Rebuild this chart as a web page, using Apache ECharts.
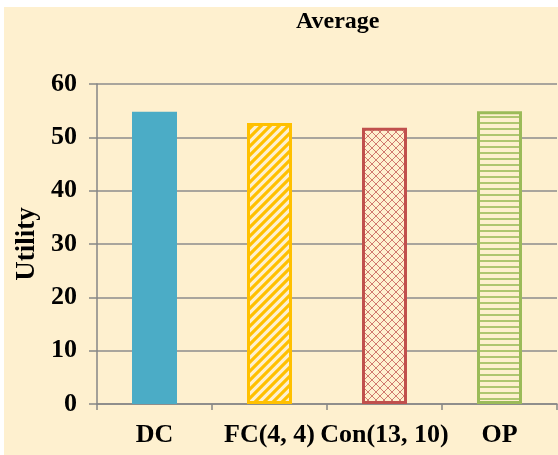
<!DOCTYPE html>
<html>
<head>
<meta charset="utf-8">
<script src="https://cdn.jsdelivr.net/npm/echarts@6/dist/echarts.min.js"></script>
<style>
  html, body { margin: 0; padding: 0; background: #ffffff; }
  #bg { position: absolute; left: 4px; top: 7px; width: 554px; height: 448px; background: #FEF0CF; }
  #chart { position: absolute; left: 0; top: 0; width: 558px; height: 455px; }
</style>
</head>
<body>
<div id="bg"></div>
<div id="chart"></div>
<script>
const chartTitle = 'Average';
const categories = ['DC', 'FC(4, 4)', 'Con(13, 10)', 'OP'];
const values = [54.8, 52.7, 51.8, 54.9];
const yAxisName = 'Utility';
const yMin = 0, yMax = 60, yInterval = 10;

const cream = '#FEF0CF';
function makePattern(kind, color) {
  const c = document.createElement('canvas');
  if (kind === 'horiz') { c.width = 8; c.height = 6; }
  else if (kind === 'diag') { c.width = 9; c.height = 9; }
  else { c.width = 8; c.height = 8; }
  const ctx = c.getContext('2d');
  ctx.fillStyle = cream;
  ctx.fillRect(0, 0, c.width, c.height);
  ctx.strokeStyle = color;
  if (kind === 'diag') {
    const s = c.width;
    ctx.lineWidth = 3.2;
    ctx.beginPath();
    [-s, 0, s].forEach(function (x0) {
      ctx.moveTo(x0 - 2, s + 2);
      ctx.lineTo(x0 + s + 2, -2);
    });
    ctx.stroke();
  } else if (kind === 'cross') {
    ctx.lineWidth = 1;
    ctx.globalAlpha = 0.75;
    ctx.beginPath();
    ctx.moveTo(0, 0); ctx.lineTo(8, 8);
    ctx.moveTo(8, 0); ctx.lineTo(0, 8);
    ctx.stroke();
  } else if (kind === 'horiz') {
    ctx.lineWidth = 1.6;
    ctx.beginPath();
    ctx.moveTo(0, 3); ctx.lineTo(8, 3);
    ctx.stroke();
  }
  return { image: c, repeat: 'repeat' };
}

const styles = [
  { color: '#4BACC6', borderWidth: 0 },
  { color: makePattern('diag', '#FFC000'), borderColor: '#FFC000', borderWidth: 3 },
  { color: makePattern('cross', '#C0504D'), borderColor: '#C0504D', borderWidth: 3 },
  { color: makePattern('horiz', '#9BBB59'), borderColor: '#9BBB59', borderWidth: 3 }
];

const font = '"Liberation Serif", "Times New Roman", serif';
const chart = echarts.init(document.getElementById('chart'));
chart.setOption({
  animation: false,
  backgroundColor: 'transparent',
  title: {
    text: chartTitle,
    left: 291,
    top: 5,
    textStyle: { fontFamily: font, fontWeight: 'bold', fontSize: 24, color: '#000' }
  },
  grid: { left: 97, right: 1, top: 84, bottom: 51, containLabel: false },
  xAxis: {
    type: 'category',
    data: categories,
    axisLine: { lineStyle: { color: '#868686', width: 1.5 } },
    axisTick: { show: true, length: 6, lineStyle: { color: '#868686', width: 1.5 } },
    axisLabel: { margin: 18, fontFamily: font, fontWeight: 'bold', fontSize: 26, color: '#000', interval: 0 }
  },
  yAxis: {
    type: 'value',
    min: yMin, max: yMax, interval: yInterval,
    name: yAxisName,
    nameLocation: 'middle',
    nameGap: 52,
    nameTextStyle: { fontFamily: font, fontWeight: 'bold', fontSize: 27, color: '#000' },
    axisLine: { show: true, lineStyle: { color: '#868686', width: 1.5 } },
    axisTick: { show: true, length: 8, lineStyle: { color: '#868686', width: 1.5 } },
    axisLabel: { margin: 20, fontFamily: font, fontWeight: 'bold', fontSize: 26, color: '#000' },
    splitLine: { show: true, lineStyle: { color: '#8C8C8C', width: 1.5 } }
  },
  series: [{
    type: 'bar',
    barWidth: 45,
    data: values.map((v, i) => ({ value: v, itemStyle: styles[i] }))
  }]
});
</script>
</body>
</html>
